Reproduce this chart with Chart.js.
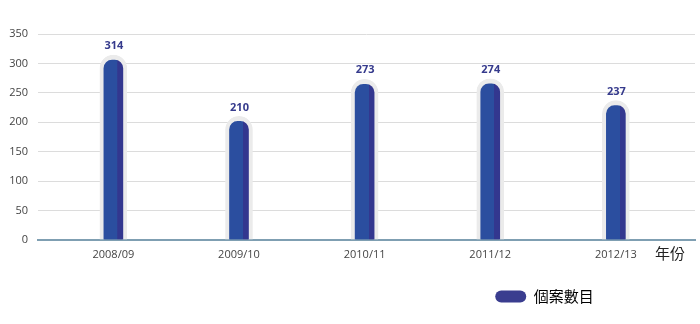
<!DOCTYPE html>
<html>
<head>
<meta charset="utf-8">
<script src="https://cdn.jsdelivr.net/npm/chart.js@4/dist/chart.umd.min.js"></script>
<style>
  html, body { margin: 0; padding: 0; background: #fff; }
  #wrap { width: 700px; height: 324px; position: relative; }
</style>
</head>
<body>
<div id="wrap"><canvas id="c" width="700" height="324"></canvas></div>
<script>
const CATEGORIES = ['2008/09', '2009/10', '2010/11', '2011/12', '2012/13'];
const VALUES = [314, 210, 273, 274, 237];
const SERIES_NAME = '個案數目';
const X_TITLE = '年份';
const Y_TICKS_MAX = 350;
const Y_TICKS_STEP = 50;

const BLUE = '#2b4e9f';
const DARK = '#33378f';
const CAP = '#ebebeb';
const LABEL = '#353a8c';
const LEGEND_COLOR = '#3a3d8f';
const LATIN = '"Open Sans", "Noto Sans", sans-serif';
const CJK = '"Noto Sans CJK TC", "Noto Sans", sans-serif';

const valueLabels = {
  id: 'valueLabels',
  afterDatasetsDraw(chart) {
    const ctx = chart.ctx;
    const meta = chart.getDatasetMeta(0);
    ctx.save();
    ctx.font = 'bold 11px ' + LATIN;
    ctx.fillStyle = LABEL;
    ctx.textAlign = 'center';
    ctx.textBaseline = 'middle';
    meta.data.forEach((el, i) => {
      ctx.fillText(String(VALUES[i]), el.x + 0.5, el.y - 9);
    });
    ctx.restore();
  }
};

const axisTitle = {
  id: 'axisTitle',
  afterDraw(chart) {
    const ctx = chart.ctx;
    const area = chart.chartArea;
    ctx.save();
    ctx.font = '15px ' + CJK;
    ctx.fillStyle = '#222';
    ctx.textAlign = 'left';
    ctx.textBaseline = 'middle';
    ctx.fillText(X_TITLE, area.right - 40, area.bottom + 13);
    ctx.restore();
  }
};

const legendShift = {
  id: 'legendShift',
  afterLayout(chart) {
    const lg = chart.legend;
    if (lg) { lg.left += 197; lg.right += 197; }
  }
};

new Chart(document.getElementById('c'), {
  type: 'bar',
  data: {
    datasets: [{
      label: SERIES_NAME,
      data: CATEGORIES.map((c, i) => ({ x: i, y: VALUES[i] })),
      barThickness: 27,
      borderWidth: { top: 5, left: 4, right: 4, bottom: 0 },
      borderSkipped: 'bottom',
      borderRadius: { topLeft: 13.5, topRight: 13.5, bottomLeft: 0, bottomRight: 0 },
      borderColor: CAP,
      backgroundColor: (c) => {
        const chart = c.chart;
        const xs = chart.scales && chart.scales.x;
        if (!xs || c.dataIndex === undefined || !chart.chartArea) return BLUE;
        const cx = xs.getPixelForValue(c.dataIndex);
        if (!isFinite(cx)) return BLUE;
        const g = chart.ctx.createLinearGradient(cx - 13.5, 0, cx + 13.5, 0);
        g.addColorStop(0, BLUE);
        g.addColorStop(0.645, BLUE);
        g.addColorStop(0.655, DARK);
        g.addColorStop(1, DARK);
        return g;
      }
    }]
  },
  options: {
    responsive: false,
    animation: false,
    events: [],
    layout: { padding: { top: 34, right: 5, bottom: 10, left: 0 } },
    scales: {
      x: {
        type: 'linear',
        offset: false,
        min: -0.6,
        max: 4.63,
        grid: { display: false, drawTicks: false },
        border: { display: true, color: '#7f9fb2', width: 2 },
        ticks: {
          stepSize: 1,
          includeBounds: false,
          autoSkip: false,
          maxRotation: 0,
          padding: 8,
          color: '#444',
          font: { family: LATIN, size: 11 },
          callback: (v) => Number.isInteger(v) && CATEGORIES[v] ? CATEGORIES[v] : ''
        },
        afterFit: (s) => { s.height = 39; }
      },
      y: {
        min: 0,
        max: Y_TICKS_MAX,
        grid: { color: '#dcdcdc', drawTicks: false, lineWidth: 1 },
        border: { display: false },
        ticks: {
          stepSize: Y_TICKS_STEP,
          padding: 10,
          color: '#444',
          font: { family: LATIN, size: 11 }
        },
        afterFit: (s) => { s.width = 38; }
      }
    },
    plugins: {
      tooltip: { enabled: false },
      legend: {
        position: 'bottom',
        align: 'center',
        labels: {
          boxWidth: 31,
          boxHeight: 12,
          useBorderRadius: true,
          borderRadius: 6,
          padding: 10,
          color: '#222',
          font: { family: CJK, size: 15 },
          generateLabels: (chart) => [{
            text: SERIES_NAME,
            fillStyle: LEGEND_COLOR,
            strokeStyle: LEGEND_COLOR,
            lineWidth: 0,
            hidden: false,
            datasetIndex: 0,
            borderRadius: 6
          }]
        }
      }
    }
  },
  plugins: [valueLabels, axisTitle, legendShift]
});
</script>
</body>
</html>
